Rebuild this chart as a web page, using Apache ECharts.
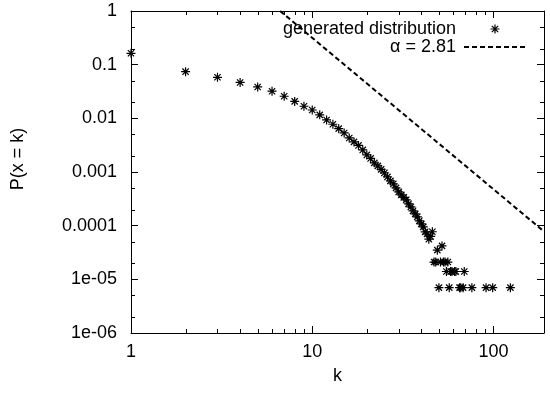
<!DOCTYPE html>
<html>
<head>
<meta charset="utf-8">
<script src="https://cdn.jsdelivr.net/npm/echarts@6/dist/echarts.min.js"></script>
<style>
html, body { margin: 0; padding: 0; background: #fff; }
#main { width: 550px; height: 395px; }
</style>
</head>
<body>
<div id="main"></div>
<script>
// degree k and observed probability P(x = k)
var kValues = [1, 2, 3, 4, 5, 6, 7, 8, 9, 10,
    11, 12, 13, 14, 15, 16, 17, 18, 19, 20,
    21, 22, 23, 24, 25, 26, 27, 28, 29, 30,
    31, 32, 33, 34, 35, 36, 37, 38, 39, 40,
    41, 42, 43, 44, 45, 46, 47, 48, 49, 50,
    51, 52, 53, 54, 55, 56, 57, 58, 59, 61,
    62, 65, 66, 68, 69, 76, 91, 99, 124];
var pValues = [0.163, 0.0741, 0.0582, 0.0466, 0.0384, 0.0320, 0.0258, 0.0207, 0.0168, 0.0143,
    0.0116, 0.00933, 0.00776, 0.00643, 0.00534, 0.00431, 0.00364, 0.00313, 0.00258, 0.00208,
    0.00179, 0.00148, 0.00130, 0.00112, 0.000962, 0.000810, 0.000683, 0.000600, 0.000506, 0.000426,
    0.000375, 0.000337, 0.000302, 0.000255, 0.000224, 0.000189, 0.000166, 0.000146, 0.000123, 0.000108,
    0.0000950, 0.0000767, 0.000070, 0.000056, 0.000063, 0.000077, 0.000021, 0.000021, 0.000035, 0.000007,
    0.000021, 0.000042, 0.000021, 0.000021, 0.000014, 0.000021, 0.000007, 0.000014, 0.000014, 0.000014,
    0.000014, 0.000007, 0.000007, 0.000007, 0.000014, 0.000007, 0.000007, 0.000007, 0.000007];

// power law guide line, alpha = 2.81 (two end points)
var fitK = [6.65, 190];
var fitP = [1, 0.000078];

var xMinorTicks = [2, 3, 4, 5, 6, 7, 8, 9, 20, 30, 40, 50, 60, 70, 80, 90];
var yMinorTicks = [2e-6, 5e-6, 2e-5, 5e-5, 2e-4, 5e-4, 2e-3, 5e-3, 0.02, 0.05, 0.2, 0.5];
var yTickLabels = ['1e-06', '1e-05', '0.0001', '0.001', '0.01', '0.1', '1'];
var xTickLabels = ['1', '10', '100'];

var X_MIN = 1, X_MAX = 190, Y_MIN = 1e-6, Y_MAX = 1;
var FONT = '"Liberation Sans", Arial, sans-serif';
var FS = 18;
var STAR = 'path://M5 0L5 10M0 5L10 5M1.5 1.5L8.5 8.5M1.5 8.5L8.5 1.5';

var chart = echarts.init(document.getElementById('main'));

function expOf(v) {
    var e = Math.log(v) / Math.LN10;
    var r = Math.round(e);
    return Math.abs(e - r) < 1e-6 ? r : null;
}

function minorX(params, api) {
    var v = api.value(0);
    var b = api.coord([v, Y_MIN]);
    var t = api.coord([v, Y_MAX]);
    var x = Math.round(b[0]) + 0.5;
    return {type: 'group', children: [
        {type: 'line', shape: {x1: x, y1: b[1], x2: x, y2: b[1] - 4}, style: {stroke: '#000', lineWidth: 1}},
        {type: 'line', shape: {x1: x, y1: t[1], x2: x, y2: t[1] + 4}, style: {stroke: '#000', lineWidth: 1}}
    ]};
}

function minorY(params, api) {
    var v = api.value(1);
    var l = api.coord([X_MIN, v]);
    var r = api.coord([X_MAX, v]);
    var y = Math.round(l[1]) + 0.5;
    return {type: 'group', children: [
        {type: 'line', shape: {x1: l[0], y1: y, x2: l[0] + 4, y2: y}, style: {stroke: '#000', lineWidth: 1}},
        {type: 'line', shape: {x1: r[0], y1: y, x2: r[0] - 4, y2: y}, style: {stroke: '#000', lineWidth: 1}}
    ]};
}

var axisLineStyle = {show: true, lineStyle: {color: '#000', width: 1}};
var majorTick = {show: true, inside: true, length: 7, lineStyle: {color: '#000', width: 1}};

var option = {
    backgroundColor: '#fff',
    animation: false,
    textStyle: {fontFamily: FONT},
    grid: {left: 131, right: 6, top: 11, bottom: 62},
    legend: {
        orient: 'vertical',
        right: 23,
        top: 20,
        align: 'right',
        itemWidth: 62,
        itemHeight: 9,
        itemGap: 0,
        padding: 0,
        textStyle: {fontSize: FS, lineHeight: 18, color: '#000', fontFamily: FONT, padding: [0, 3, 0, 0]},
        data: [{
            name: 'generated distribution',
            icon: STAR,
            itemStyle: {color: 'none', borderColor: '#000', borderWidth: 1.2}
        }, {
            name: 'α = 2.81',
            itemStyle: {opacity: 0},
            lineStyle: {color: '#000', width: 2, type: [5, 3], opacity: 1}
        }]
    },
    xAxis: [{
        type: 'log', logBase: 10, min: X_MIN, max: X_MAX,
        name: 'k', nameLocation: 'middle', nameGap: 34,
        nameTextStyle: {fontSize: FS, color: '#000', fontFamily: FONT},
        axisLine: axisLineStyle, axisTick: majorTick, splitLine: {show: false},
        axisLabel: {
            margin: 10, fontSize: FS, color: '#000', fontFamily: FONT,
            formatter: function (v) {
                var e = expOf(v);
                return e === null ? '' : (xTickLabels[e] || '');
            }
        }
    }, {
        type: 'log', logBase: 10, min: X_MIN, max: X_MAX, position: 'top',
        axisLine: axisLineStyle, axisTick: majorTick, axisLabel: {show: false}, splitLine: {show: false}
    }],
    yAxis: [{
        type: 'log', logBase: 10, min: Y_MIN, max: Y_MAX,
        name: '{gap|}P(x = k)', nameLocation: 'middle', nameGap: 104,
        nameTextStyle: {fontSize: FS, color: '#000', fontFamily: FONT, rich: {gap: {width: 26}}},
        axisLine: axisLineStyle, axisTick: majorTick, splitLine: {show: false},
        axisLabel: {
            margin: 14, fontSize: FS, color: '#000', fontFamily: FONT,
            formatter: function (v) {
                var e = expOf(v);
                return e === null ? '' : (yTickLabels[e + 6] || '');
            }
        }
    }, {
        type: 'log', logBase: 10, min: Y_MIN, max: Y_MAX, position: 'right',
        axisLine: axisLineStyle, axisTick: majorTick, axisLabel: {show: false}, splitLine: {show: false}
    }],
    series: [{
        name: 'generated distribution',
        type: 'scatter',
        symbol: STAR,
        symbolSize: 9,
        itemStyle: {color: 'none', borderColor: '#000', borderWidth: 1.2, opacity: 1},
        data: kValues.map(function (k, i) { return [k, pValues[i]]; }),
        z: 3
    }, {
        name: 'α = 2.81',
        type: 'line',
        symbol: 'none',
        lineStyle: {color: '#000', width: 2, type: [5, 3]},
        itemStyle: {color: '#000'},
        data: fitK.map(function (k, i) { return [k, fitP[i]]; }),
        z: 2
    }, {
        type: 'custom',
        renderItem: minorX,
        data: xMinorTicks.map(function (v) { return [v, Y_MIN]; }),
        silent: true, z: 1
    }, {
        type: 'custom',
        renderItem: minorY,
        data: yMinorTicks.map(function (v) { return [X_MIN, v]; }),
        silent: true, z: 1
    }]
};

chart.setOption(option);
window.onresize = chart.resize;
</script>
</body>
</html>
